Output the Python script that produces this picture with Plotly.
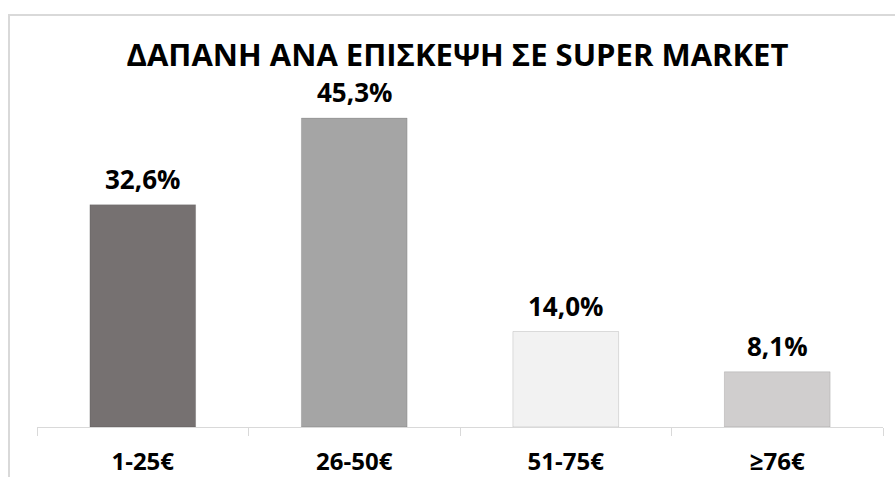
import plotly.graph_objects as go

categories = ["1-25€", "26-50€", "51-75€", "≥76€"]
values = [32.6, 45.3, 14.0, 8.1]
bar_colors = ["#767171", "#A5A5A5", "#F2F2F2", "#D0CECE"]
title_text = "ΔΑΠΑΝΗ ΑΝΑ ΕΠΙΣΚΕΨΗ ΣΕ SUPER MARKET"

labels = [f"{v:.1f}".replace(".", ",") + "%" for v in values]

W, H = 895, 477
L, R, T, B = 37, 12, 60, 50
pw, ph = W - L - R, H - T - B

fig = go.Figure(go.Bar(
    x=categories, y=values,
    marker=dict(color=bar_colors, line=dict(color="rgba(0,0,0,0.12)", width=1)),
    cliponaxis=False, hoverinfo="skip",
))

for c, v, t in zip(categories, values, labels):
    fig.add_annotation(x=c, y=v, text=t, showarrow=False, yanchor="bottom", yshift=7,
                       borderpad=0,
                       font=dict(family="Open Sans", size=26, color="#000000", weight="bold"))

def px_x(p):
    return (p - L) / pw

def px_y(p):
    return (H - B - p) / ph

fig.update_layout(
    width=W, height=H,
    margin=dict(l=L, r=R, t=T, b=B, autoexpand=False),
    paper_bgcolor="white", plot_bgcolor="white",
    bargap=0.5,
    showlegend=False,
    title=dict(text=title_text, xref="container", x=457.5 / W, xanchor="center",
               y=1 - 55 / H, yanchor="middle", automargin=False,
               font=dict(family="Open Sans", size=31, color="#000000", weight="bold")),
    xaxis=dict(showline=True, linecolor="#D9D9D9", linewidth=1, ticks="outside",
               tickson="boundaries", ticklen=8, tickcolor="#D9D9D9",
               ticklabelstandoff=13, automargin=False,
               tickfont=dict(family="Open Sans", size=24, color="#000000", weight="bold"),
               showgrid=False, fixedrange=True),
    yaxis=dict(visible=False, range=[0, ph / 6.82], fixedrange=True, automargin=False),
    shapes=[
        dict(type="line", xref="paper", yref="paper", x0=px_x(8), x1=px_x(W + 5),
             y0=px_y(15), y1=px_y(15), line=dict(color="#D9D9D9", width=2)),
        dict(type="line", xref="paper", yref="paper", x0=px_x(9), x1=px_x(9),
             y0=px_y(14), y1=px_y(H + 5), line=dict(color="#D9D9D9", width=2)),
    ],
)

fig.write_html("out.html", config={"displayModeBar": False},
               post_script="document.body.style.margin='0';")
